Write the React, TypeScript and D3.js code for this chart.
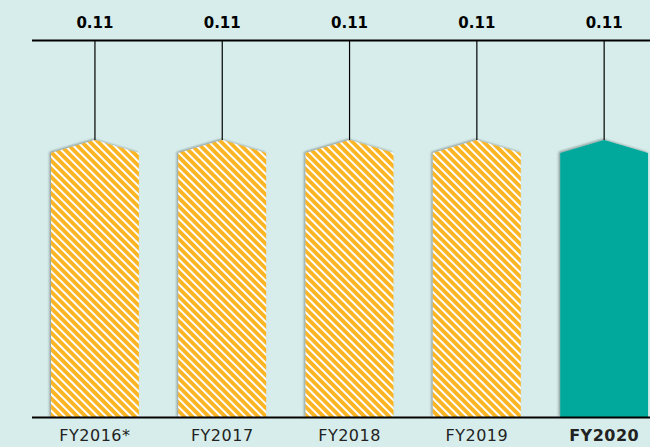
import React, { useEffect } from "react";
import * as d3 from "d3";

const categories = ["FY2016*", "FY2017", "FY2018", "FY2019", "FY2020"];
const values = [0.11, 0.11, 0.11, 0.11, 0.11];
const valueLabels = ["0.11", "0.11", "0.11", "0.11", "0.11"];
const highlighted = [false, false, false, false, true];

const W = 650;
const H = 447;

export default function App() {
  useEffect(() => {
    document.body.style.margin = "0";
  }, []);

  const x = d3
    .scaleBand<string>()
    .domain(categories)
    .range([31.3, 667.8])
    .paddingInner(0.31)
    .paddingOuter(0.155);
  const baseY = 417.5;
  const topLineY = 40.5;
  const y = d3.scaleLinear().domain([0, 0.11]).range([baseY, 140]);
  const shoulder = 13;
  const bw = x.bandwidth();

  const barPath = (c: string, v: number) => {
    const x0 = x(c)!;
    const x1 = x0 + bw;
    const xc = x0 + bw / 2;
    const yp = y(v);
    const p = d3.path();
    p.moveTo(x0, baseY);
    p.lineTo(x0, yp + shoulder);
    p.lineTo(xc, yp);
    p.lineTo(x1, yp + shoulder);
    p.lineTo(x1, baseY);
    p.closePath();
    return p.toString();
  };

  return (
    <svg width={W} height={H} style={{ display: "block", background: "#d6edeb" }}>
      <defs>
        <pattern
          id="stripes"
          width={5.8}
          height={10}
          patternUnits="userSpaceOnUse"
          patternTransform="rotate(-45)"
        >
          <rect width={5.8} height={10} fill="#fbb421" />
          <rect width={2} height={10} fill="#ffffff" />
        </pattern>
        <filter id="shadow" x="-10%" y="-10%" width="120%" height="120%">
          <feDropShadow dx={-1.5} dy={-1} stdDeviation={0.8} floodColor="#000" floodOpacity={0.35} />
        </filter>
      </defs>
      <rect width={W} height={H} fill="#d6edeb" />
      {categories.map((c, i) => (
        <g key={c}>
          <line
            x1={x(c)! + bw / 2}
            x2={x(c)! + bw / 2}
            y1={topLineY}
            y2={y(values[i])}
            stroke="#000"
            strokeWidth={1.2}
          />
          <path
            d={barPath(c, values[i])}
            fill={highlighted[i] ? "#00a99c" : "url(#stripes)"}
            filter="url(#shadow)"
          />
          <text
            x={x(c)! + bw / 2}
            y={28}
            textAnchor="middle"
            fontFamily="DejaVu Sans"
            fontWeight="bold"
            fontSize={15}
            fill="#000"
          >
            {valueLabels[i]}
          </text>
          <text
            x={x(c)! + bw / 2}
            y={441}
            textAnchor="middle"
            fontFamily="DejaVu Sans"
            fontWeight={highlighted[i] ? "bold" : "normal"}
            fontSize={16}
            letterSpacing={0.5}
            fill="#222"
          >
            {c}
          </text>
        </g>
      ))}
      <line x1={32} x2={W} y1={topLineY} y2={topLineY} stroke="#000" strokeWidth={2.2} />
      <line x1={32} x2={W} y1={baseY} y2={baseY} stroke="#000" strokeWidth={2.2} />
    </svg>
  );
}
